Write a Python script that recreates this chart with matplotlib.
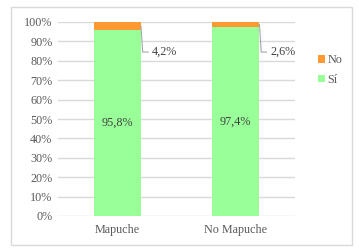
import matplotlib.pyplot as plt
from matplotlib.patches import Rectangle
from matplotlib.ticker import PercentFormatter

categories = ["Mapuche", "No Mapuche"]
si = [95.8, 97.4]
no = [4.2, 2.6]
si_labels = ["95,8%", "97,4%"]
no_labels = ["4,2%", "2,6%"]

plt.rcParams['font.family'] = ['Liberation Serif', 'DejaVu Serif']
GRAY = '#595959'
GREEN = '#99FF99'
ORANGE = '#FF9933'

fig = plt.figure(figsize=(3.59, 2.52), dpi=100)
fig.patches.append(Rectangle((11 / 359, 7 / 252), 341 / 359, 238 / 252,
                             transform=fig.transFigure, fill=False,
                             edgecolor='#D9D9D9', linewidth=1))
ax = fig.add_axes([58 / 359, 36 / 252, 237 / 359, 194 / 252])

x = range(len(categories))
ax.bar(x, si, width=0.4, color=GREEN, label='Sí', zorder=2)
ax.bar(x, no, width=0.4, bottom=si, color=ORANGE, label='No', zorder=2)

ax.set_xlim(-0.5, 1.5)
ax.set_ylim(0, 100)
ax.set_yticks(range(0, 101, 10))
ax.yaxis.set_major_formatter(PercentFormatter(decimals=0))
ax.set_xticks(list(x))
ax.set_xticklabels(categories)
ax.grid(axis='y', color='#D9D9D9', linewidth=1, zorder=0)
for s in ax.spines.values():
    s.set_visible(False)
ax.tick_params(length=0, labelsize=8.7, colors=GRAY, pad=4)
ax.tick_params(axis='x', pad=6)

for i in x:
    ax.text(i, si[i] / 2, si_labels[i], ha='center', va='center',
            fontsize=8.7, color='#404040', zorder=3)
    # leader line from the top segment to its label
    x0 = i + 0.2
    ax.plot([x0, x0 + 0.015, x0 + 0.06], [si[i] + no[i] / 2, 84.5, 84.5],
            color='#A6A6A6', linewidth=0.8, zorder=3, clip_on=False)
    ax.text(x0 + 0.09, 84.5, no_labels[i], ha='left', va='center',
            fontsize=8.7, color='#404040', zorder=3)

handles, labels = ax.get_legend_handles_labels()
fig.legend(handles[::-1], labels[::-1], loc='center left',
           bbox_to_anchor=(312 / 359, 1 - 70 / 252), frameon=False,
           fontsize=8.7, labelcolor=GRAY, handlelength=0.6, handleheight=0.6,
           handletextpad=0.2, labelspacing=0.6, borderpad=0)

fig.savefig('out.png', dpi=100)
